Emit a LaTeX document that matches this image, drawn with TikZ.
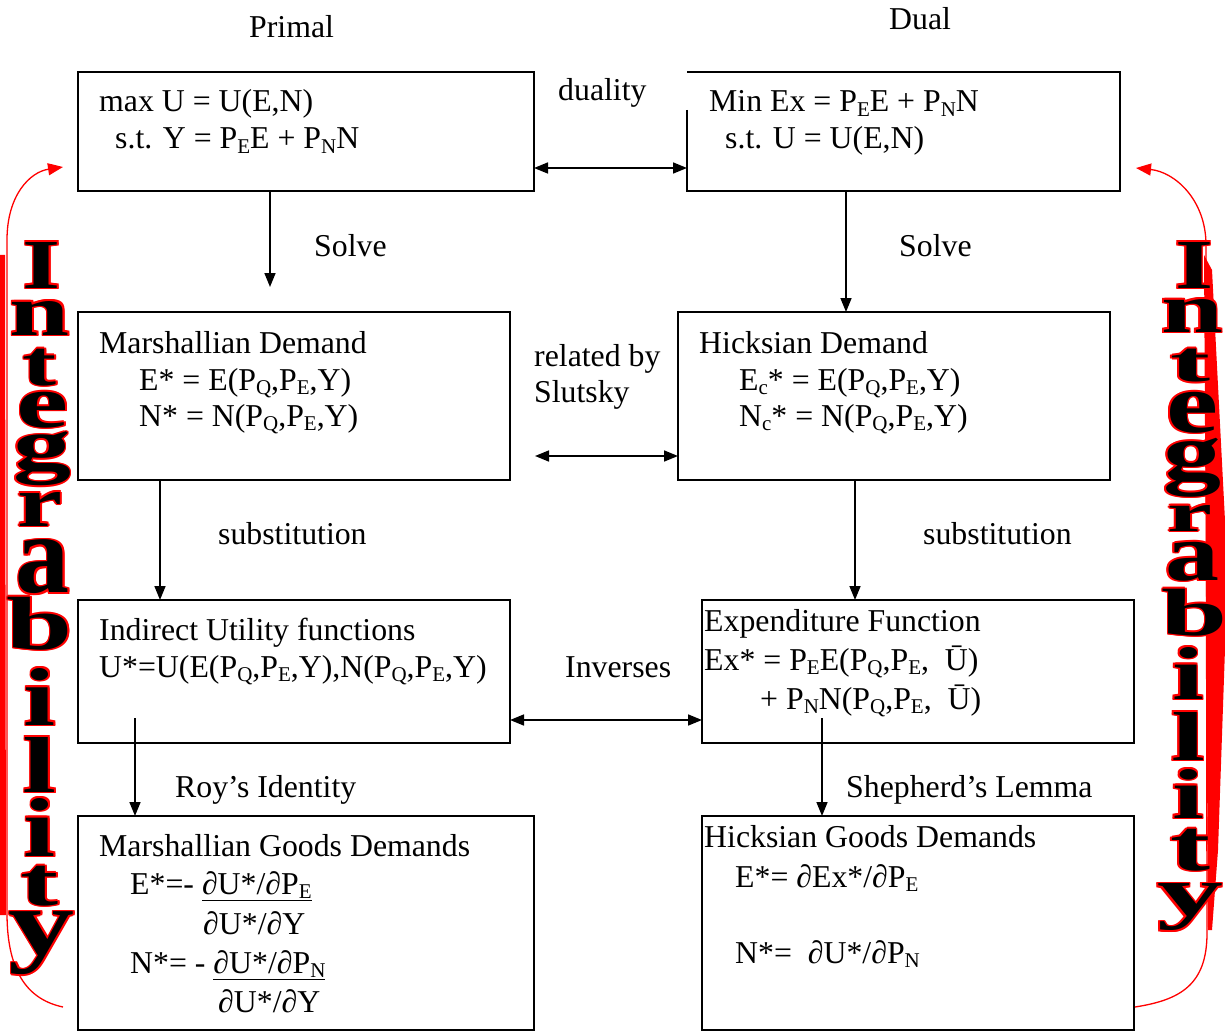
\documentclass[tikz,border=0pt]{standalone}
\usepackage{fontspec}
\setmainfont{Liberation Serif}
\usepackage{graphicx}
\usetikzlibrary{arrows.meta,calc}
\newcommand\sbs[1]{\raisebox{-0.14em}{\fontsize{21pt}{20pt}\selectfont #1}}
\newcommand{\intletter}[6]{%
  \pgfmathsetmacro\ilcy{(#4+#5)/2}%
  \pgfmathsetmacro\ilh{#5-#4}%
  \foreach \ang in {0,45,...,315}{%
    \node[inner sep=0pt, text=red] (#1r\ang) at ($(#3,\ilcy)+(\ang:1.6pt)$) {\resizebox*{#6pt}{\ilh pt}{\bfseries #2}};
  }%
  \node[inner sep=0pt] (#1) at (#3,\ilcy) {\resizebox*{#6pt}{\ilh pt}{\bfseries #2}};
}
\begin{document}
\begin{tikzpicture}[x=1pt,y=-1pt,
  box/.style={draw, line width=1.8pt, inner sep=0pt, outer sep=0pt, anchor=north west},
  txt/.style={inner sep=0pt, anchor=base west, font=\fontsize{31.8pt}{36pt}\selectfont},
  arr/.style={line width=1.6pt, -{Triangle[length=14pt,width=11pt]}},
  dbl/.style={line width=1.6pt, {Triangle[length=14pt,width=11pt]}-{Triangle[length=14pt,width=11pt]}},
  redarr/.style={red, line width=1.3pt, -{Triangle[length=15pt,width=12pt]}}]
\fill[white] (0,0) rectangle (1225,1032);
\useasboundingbox (0,0) rectangle (1225,1032);

% boxes
\node[box, minimum width=456pt, minimum height=119pt] (b1) at (78,72) {};
\node[box, draw=none, minimum width=433pt, minimum height=119pt] (b2) at (687,72) {};
\draw[line width=1.8pt] ([yshift=-38pt]b2.north west) -- (b2.south west) -- (b2.south east) -- (b2.north east) -- (b2.north west);
\node[box, minimum width=432pt, minimum height=168pt] (b3) at (78,312) {};
\node[box, minimum width=432pt, minimum height=168pt] (b4) at (678,312) {};
\node[box, minimum width=432pt, minimum height=143pt] (b5) at (78,600) {};
\node[box, line width=2.3pt, minimum width=432pt, minimum height=143pt] (b6) at (702,600) {};
\node[box, minimum width=456pt, minimum height=214pt] (b7) at (78,816) {};
\node[box, minimum width=432pt, minimum height=214pt] (b8) at (702,816) {};

% labels
\node[txt] (lprimal) at (249,38) {Primal};
\node[txt] (ldual) at (889,30) {Dual};
\node[txt] (lduality) at (558,101) {duality};
\node[txt] (lsolve1) at (314,256) {Solve};
\node[txt] (lsolve2) at (899,256) {Solve};
\node[txt] (lrel1) at (534,366) {related by};
\node[txt] (lrel2) at (534,402) {Slutsky};
\node[txt] (lsub1) at (218,544) {substitution};
\node[txt] (lsub2) at (923,544) {substitution};
\node[txt] (linv) at (565,677) {Inverses};
\node[txt] (lroy) at (175,797) {Roy’s Identity};
\node[txt] (lshep) at (846,797) {Shepherd’s Lemma};

% box texts
\node[txt] (t1a) at (99,112) {max U = U(E,N)};
\node[txt] (t1b) at (115,149) {s.t. Y = P\sbs{E}E + P\sbs{N}N};
\node[txt] (t2a) at (709,112) {Min Ex = P\sbs{E}E + P\sbs{N}N};
\node[txt] (t2b) at (725,149) {s.t. U = U(E,N)};
\node[txt] (t3a) at (99,353) {Marshallian Demand};
\node[txt] (t3b) at (139,390) {E* = E(P\sbs{Q},P\sbs{E},Y)};
\node[txt] (t3c) at (139,426) {N* = N(P\sbs{Q},P\sbs{E},Y)};
\node[txt] (t4a) at (699,353) {Hicksian Demand};
\node[txt] (t4b) at (739,390) {E\sbs{c}* = E(P\sbs{Q},P\sbs{E},Y)};
\node[txt] (t4c) at (739,426) {N\sbs{c}* = N(P\sbs{Q},P\sbs{E},Y)};
\node[txt] (t5a) at (99,640) {Indirect Utility functions};
\node[txt] (t5b) at (99,677) {U*=U(E(P\sbs{Q},P\sbs{E},Y),N(P\sbs{Q},P\sbs{E},Y)};
\node[txt] (t6a) at (704,631) {Expenditure Function};
\node[txt] (t6b) at (704,670) {Ex* = P\sbs{E}E(P\sbs{Q},P\sbs{E},\ \ \=U)};
\node[txt] (t6c) at (760,709) {+ P\sbs{N}N(P\sbs{Q},P\sbs{E},\ \ \=U)};
\node[txt] (t7a) at (99,856) {Marshallian Goods Demands};
\node[txt] (t7b) at (130,894) {E*=- \underline{∂U*/∂P\sbs{E}}};
\node[txt] (t7c) at (203,934) {∂U*/∂Y};
\node[txt] (t7d) at (130,973) {N*= - \underline{∂U*/∂P\sbs{N}}};
\node[txt] (t7e) at (218,1012) {∂U*/∂Y};
\node[txt] (t8a) at (704,847) {Hicksian Goods Demands};
\node[txt] (t8b) at (735,887) {E*= ∂Ex*/∂P\sbs{E}};
\node[txt] (t8c) at (735,963) {N*=\ \ ∂U*/∂P\sbs{N}};

% connectors
\coordinate (s1end) at (270,287);
\coordinate (slstart) at (535,456);
\coordinate (roystart) at (135,718);
\coordinate (shepstart) at (822,718);
\draw[dbl] (b1.east |- 0,168) -- (b2.west |- 0,168);
\draw[arr] (b1.south -| s1end) -- (s1end);
\draw[arr] (b2.south -| 846,0) -- (b4.north -| 846,0);
\draw[dbl] (slstart) -- (b4.west |- slstart);
\draw[arr] (b3.south -| 160,0) -- (b5.north -| 160,0);
\draw[arr] (b4.south -| 855,0) -- (b6.north -| 855,0);
\draw[dbl] (b5.east |- 0,720) -- (b6.west |- 0,720);
\draw[arr] (roystart) -- (b7.north -| roystart);
\draw[arr] (shepstart) -- (b8.north -| shepstart);

% red bars
\fill[red] (0,255) -- (5,255) -- (6,915) -- (0,915) -- cycle;
\fill[red] (1204,255) -- (1212,270) -- (1226,540) -- (1226,620) -- (1218,850) -- (1212,930) -- (1208,930) -- (1206,600) -- cycle;

% red curved arrows
\coordinate (lbot) at (63,1007);
\coordinate (ltip) at (63,167);
\coordinate (rbot) at (1135,1007);
\coordinate (rtip) at (1136,168);
\draw[redarr] (lbot) .. controls (30,1000) and (7,975) .. (7,913) -- (7,240) .. controls (7,195) and (30,172) .. (ltip);
\draw[redarr] (rbot) .. controls (1180,1000) and (1207,985) .. (1207,933) -- (1206,245) .. controls (1206,200) and (1175,172) .. (rtip);

% Integrability left
\intletter{L1}{I}{42}{242}{288}{38}
\intletter{L2}{n}{40}{301}{335}{60}
\intletter{L3}{t}{40}{349}{386}{34}
\intletter{L4}{e}{43}{392}{428}{52}
\intletter{L5}{g}{42}{432}{486}{58}
\intletter{L6}{r}{40}{492}{526}{45}
\intletter{L7}{a}{43}{540}{594}{54}
\intletter{L8}{b}{40}{597}{650}{66}
\intletter{L9}{i}{40}{668}{725}{32}
\intletter{L10}{l}{40}{737}{792}{34}
\intletter{L11}{i}{40}{798}{856}{32}
\intletter{L12}{t}{40}{866}{906}{38}
\intletter{L13}{y}{42}{912}{975}{66}
% Integrability right
\intletter{R1}{I}{1194}{242}{288}{38}
\intletter{R2}{n}{1192}{299}{332}{62}
\intletter{R3}{t}{1190}{349}{382}{40}
\intletter{R4}{e}{1192}{392}{433}{52}
\intletter{R5}{g}{1192}{438}{497}{58}
\intletter{R6}{r}{1190}{505}{531}{45}
\intletter{R7}{a}{1192}{542}{581}{54}
\intletter{R8}{b}{1195}{589}{636}{66}
\intletter{R9}{i}{1188}{647}{699}{32}
\intletter{R10}{l}{1188}{712}{760}{34}
\intletter{R11}{i}{1188}{769}{818}{32}
\intletter{R12}{t}{1190}{829}{871}{40}
\intletter{R13}{y}{1190}{884}{931}{66}
\end{tikzpicture}
\end{document}
